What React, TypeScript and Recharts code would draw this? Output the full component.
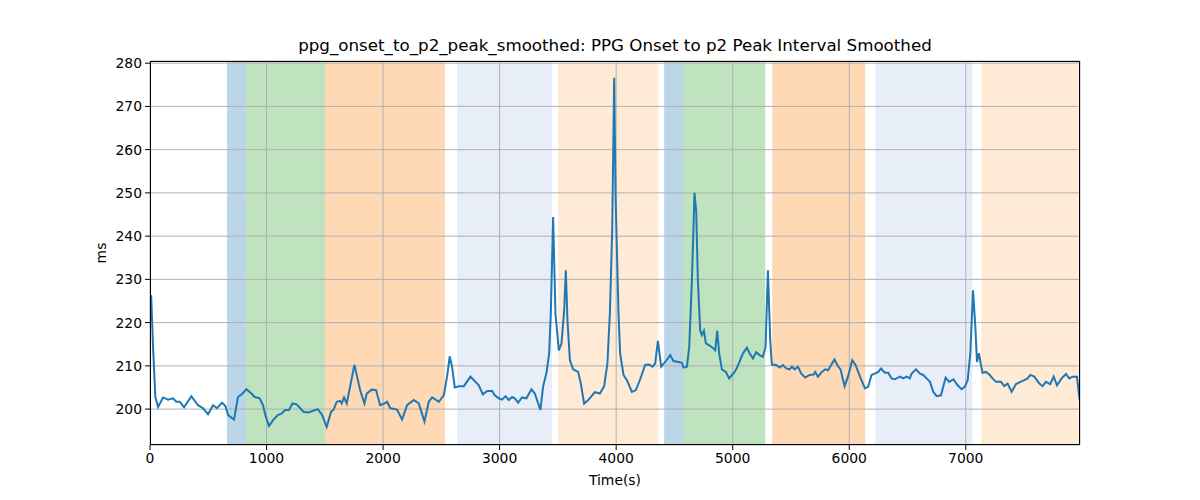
import { LineChart, Line, XAxis, YAxis, CartesianGrid, ReferenceArea } from 'recharts'

// sample times (s) and smoothed onset-to-p2 interval (ms)
const TIME = [
  10, 26, 46, 69, 112, 155, 197, 226, 255, 292, 355, 412, 455, 498, 541, 575, 618, 647, 670, 721,
  755, 790, 827, 870, 898, 941, 970, 990, 1021, 1058, 1096, 1130, 1159, 1193, 1222, 1259, 1316, 1359, 1388, 1439,
  1474, 1516, 1554, 1574, 1602, 1631, 1645, 1665, 1688, 1754, 1803, 1840, 1860, 1903, 1940, 1974, 2011, 2034, 2063, 2120,
  2163, 2206, 2263, 2306, 2355, 2392, 2421, 2478, 2521, 2549, 2572, 2592, 2615, 2650, 2693, 2750, 2793, 2821, 2856, 2893,
  2936, 2959, 2993, 3021, 3050, 3079, 3107, 3130, 3159, 3193, 3230, 3273, 3302, 3350, 3373, 3402, 3425, 3439, 3459, 3479,
  3508, 3531, 3554, 3568, 3582, 3603, 3631, 3674, 3697, 3725, 3760, 3817, 3860, 3897, 3925, 3946, 3966, 3983, 3995, 4020,
  4034, 4063, 4092, 4135, 4169, 4206, 4249, 4283, 4312, 4335, 4358, 4386, 4421, 4464, 4492, 4535, 4564, 4578, 4607, 4627,
  4650, 4672, 4687, 4701, 4721, 4735, 4753, 4770, 4807, 4836, 4850, 4867, 4884, 4907, 4941, 4970, 5016, 5030, 5058, 5088,
  5122, 5145, 5174, 5202, 5230, 5259, 5282, 5302, 5322, 5336, 5373, 5402, 5431, 5459, 5488, 5508, 5531, 5560, 5588, 5622,
  5660, 5694, 5708, 5731, 5765, 5794, 5817, 5845, 5873, 5897, 5925, 5960, 5989, 6026, 6054, 6092, 6135, 6163, 6191, 6220,
  6249, 6272, 6306, 6335, 6363, 6392, 6435, 6464, 6492, 6520, 6535, 6573, 6607, 6635, 6664, 6693, 6721, 6750, 6787, 6827,
  6858, 6893, 6930, 6964, 6993, 7016, 7039, 7062, 7082, 7096, 7113, 7130, 7144, 7173, 7202, 7230, 7259, 7302, 7330, 7359,
  7393, 7431, 7468, 7502, 7531, 7554, 7588, 7631, 7659, 7688, 7725, 7754, 7783, 7822, 7860, 7888, 7917, 7954, 7977,
]
const INTERVAL_MS = [
  226.4, 214.4, 202.8, 200.5, 202.7, 202.2, 202.5, 201.7, 201.7, 200.4, 203.0, 200.9, 200.2, 198.8, 200.9, 200.2, 201.5, 200.7, 198.6, 197.6,
  202.8, 203.5, 204.6, 203.6, 202.8, 202.5, 200.9, 198.6, 196.1, 197.5, 198.6, 199.0, 199.8, 199.8, 201.3, 201.1, 199.4, 199.2, 199.5, 200.0,
  198.8, 195.9, 199.4, 199.8, 201.7, 201.9, 201.3, 202.7, 201.3, 210.2, 204.4, 201.3, 203.6, 204.5, 204.4, 200.9, 201.3, 201.7, 200.2, 199.9,
  197.6, 200.9, 202.1, 201.3, 197.1, 201.7, 202.7, 201.7, 203.2, 207.5, 212.2, 209.8, 205.0, 205.3, 205.3, 207.5, 206.3, 205.5, 203.4, 204.2,
  204.2, 203.2, 202.5, 202.2, 203.0, 202.1, 202.8, 202.5, 201.5, 202.7, 202.5, 204.6, 203.6, 199.8, 205.2, 208.4, 212.9, 222.1, 244.4, 222.1,
  213.6, 215.2, 222.9, 232.1, 220.6, 211.3, 209.2, 208.6, 205.9, 201.3, 202.1, 203.9, 203.6, 205.3, 210.6, 222.1, 241.3, 276.6, 249.0, 222.1,
  212.9, 207.9, 206.7, 204.0, 204.4, 206.9, 210.2, 210.3, 209.8, 210.6, 215.8, 209.8, 210.9, 212.5, 211.1, 210.9, 210.7, 209.6, 209.8, 214.4,
  229.8, 250.0, 245.6, 229.8, 218.2, 217.1, 218.1, 215.2, 214.6, 214.0, 213.6, 218.1, 212.9, 209.2, 208.6, 207.1, 208.6, 209.2, 210.9, 212.9,
  214.2, 212.9, 211.7, 213.2, 212.5, 212.1, 214.4, 232.1, 215.9, 210.3, 210.2, 209.6, 210.2, 209.4, 209.2, 209.8, 209.2, 209.8, 208.2, 207.3,
  207.9, 208.0, 208.6, 207.5, 208.6, 209.2, 209.0, 210.2, 211.5, 210.2, 209.2, 205.3, 207.5, 211.3, 210.2, 207.5, 204.8, 205.2, 207.9, 208.2,
  208.6, 209.4, 208.4, 208.4, 207.1, 206.9, 207.5, 207.1, 207.5, 207.1, 208.2, 209.2, 208.2, 207.9, 207.1, 206.3, 204.0, 203.0, 203.2, 207.3,
  206.3, 206.9, 205.5, 204.6, 205.2, 206.7, 212.9, 227.5, 219.0, 210.9, 212.9, 210.2, 208.4, 208.6, 208.0, 207.1, 206.3, 206.3, 205.3, 205.9,
  204.0, 205.8, 206.3, 206.7, 207.1, 207.9, 207.5, 205.9, 205.3, 206.3, 205.8, 207.5, 205.5, 207.1, 208.1, 207.1, 207.5, 207.5, 202.1,
]

// shaded segments
const BAND_START = [661, 824, 1502, 2635, 3502, 4412, 4575, 5339, 6223, 7133]
const BAND_END = [824, 1502, 2532, 3451, 4361, 4575, 5279, 6137, 7056, 7966]
const BAND_KIND = ['blue', 'green', 'orange', 'lightblue', 'lightorange', 'blue', 'green', 'orange', 'lightblue', 'lightorange']

const X_TICKS = [0, 1000, 2000, 3000, 4000, 5000, 6000, 7000]
const Y_TICKS = [200, 210, 220, 230, 240, 250, 260, 270, 280]

const BAND_FILL: Record<string, string> = {
  blue: '#1f77b4',
  green: '#2ca02c',
  orange: '#ff7f0e',
  lightblue: '#aec7e8',
  lightorange: '#ffbb78',
}

const data = TIME.map((t, i) => ({ t, v: INTERVAL_MS[i] }))

const FONT = '"DejaVu Sans", sans-serif'
const tick = { fill: '#000', fontSize: 13.9, fontFamily: FONT }

export default function App() {
  return (
    <div style={{ position: 'absolute', left: 0, top: 0, width: 1200, height: 500, background: '#fff', fontFamily: FONT }}>
      <LineChart width={1200} height={500} data={data} margin={{ top: 61, right: 120, bottom: 25, left: 90 }}>
        {BAND_START.map((s, i) => (
          <ReferenceArea key={i} x1={s} x2={BAND_END[i]} fill={BAND_FILL[BAND_KIND[i]]} fillOpacity={0.3}
                         stroke="none" ifOverflow="hidden" zIndex={-200} />
        ))}
        <CartesianGrid stroke="#b0b0b0" strokeWidth={1} zIndex={-100} />
        <XAxis dataKey="t" type="number" domain={[0, 7980]} ticks={X_TICKS} allowDataOverflow
               height={30} tick={tick} tickSize={5} tickMargin={3} axisLine={false}
               tickLine={{ stroke: '#000' }} />
        <YAxis type="number" domain={[191.7, 280.5]} ticks={Y_TICKS} allowDataOverflow
               width={60} tick={tick} tickSize={5} tickMargin={3} axisLine={false}
               tickLine={{ stroke: '#000' }} />
        <Line type="linear" dataKey="v" stroke="#1f77b4" strokeWidth={2} dot={false}
              isAnimationActive={false} />
      </LineChart>
      <div style={{ position: 'absolute', left: 150, top: 61, width: 930, height: 384, boxSizing: 'border-box',
                    border: '1px solid #000', pointerEvents: 'none' }} />
      <div style={{ position: 'absolute', left: 150, top: 35, width: 930, textAlign: 'center', fontSize: 16.7,
                    color: '#000', whiteSpace: 'nowrap' }}>
        ppg_onset_to_p2_peak_smoothed: PPG Onset to p2 Peak Interval Smoothed
      </div>
      <div style={{ position: 'absolute', left: 150, top: 472, width: 930, textAlign: 'center', fontSize: 13.9,
                    color: '#000' }}>
        Time(s)
      </div>
      <div style={{ position: 'absolute', left: 101, top: 253, transform: 'translate(-50%, -50%) rotate(-90deg)',
                    fontSize: 13.9, color: '#000' }}>
        ms
      </div>
    </div>
  )
}
